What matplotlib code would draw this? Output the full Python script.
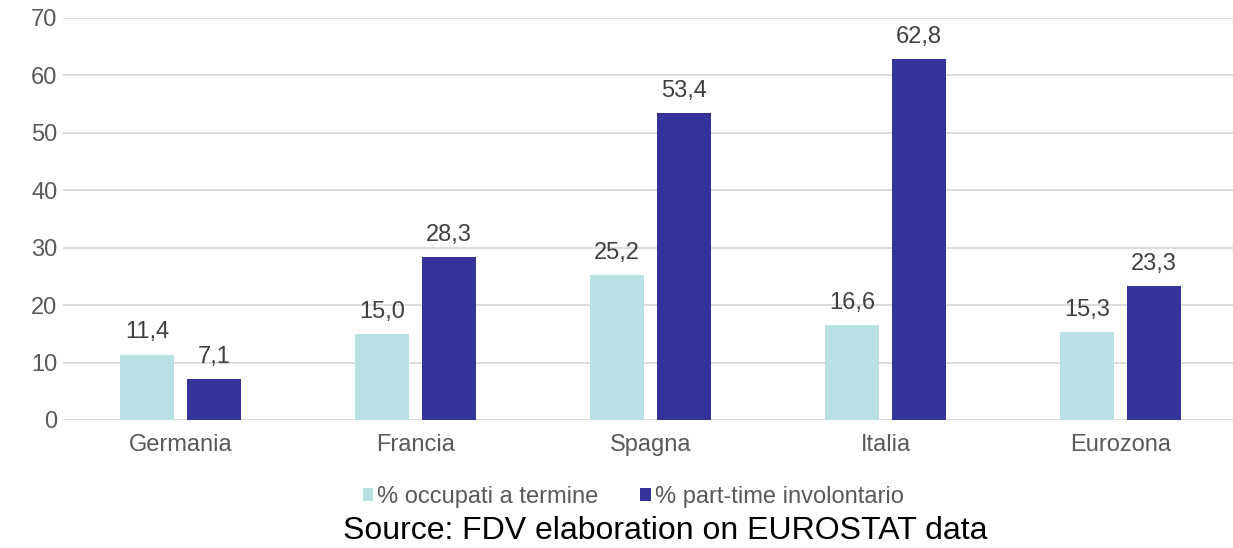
import matplotlib.pyplot as plt
import numpy as np

plt.rcParams['font.family'] = ['Liberation Sans', 'DejaVu Sans']

paesi = ['Germania', 'Francia', 'Spagna', 'Italia', 'Eurozona']
occupati_termine = [11.4, 15.0, 25.2, 16.6, 15.3]
part_time_invol = [7.1, 28.3, 53.4, 62.8, 23.3]
serie_nomi = ['% occupati a termine', '% part-time involontario']

col_chiaro = '#b9e0e3'
col_scuro = '#343399'
grigio = '#595959'

fig = plt.figure(figsize=(12.33, 5.48), dpi=100)
ax = fig.add_axes([63 / 1233, 1 - 420 / 548, 1175 / 1233, 402 / 548])

x = np.arange(len(paesi))
w = 0.226
off = 0.1426
b1 = ax.bar(x - off, occupati_termine, w, color=col_chiaro, label=serie_nomi[0], zorder=3)
b2 = ax.bar(x + off, part_time_invol, w, color=col_scuro, label=serie_nomi[1], zorder=3)

for barre, vals in [(b1, occupati_termine), (b2, part_time_invol)]:
    for b, v in zip(barre, vals):
        ax.annotate(f'{v:.1f}'.replace('.', ','), (b.get_x() + b.get_width() / 2, v),
                    xytext=(0, 8), textcoords='offset points', ha='center', va='bottom',
                    fontsize=17, color='#404040')

ax.set_xlim(-0.5, len(paesi) - 0.5)
ax.set_ylim(0, 70)
ax.set_yticks(range(0, 71, 10))
ax.set_xticks(x)
ax.set_xticklabels(paesi)
ax.tick_params(length=0, labelsize=17, colors=grigio)
ax.tick_params(axis='x', pad=10)
ax.tick_params(axis='y', pad=4)
ax.grid(axis='y', color='#d9d9d9', linewidth=1.3, zorder=0)
for s in ax.spines.values():
    s.set_visible(False)

fig.legend(handles=[b1, b2], loc='center', bbox_to_anchor=(633 / 1233, 1 - 497 / 548),
           ncol=2, frameon=False, fontsize=17, labelcolor=grigio, handlelength=0.45,
           handleheight=0.45, handletextpad=0.15, columnspacing=1.8)

fig.text(665 / 1233, 1 - 531 / 548, 'Source: FDV elaboration on EUROSTAT data',
         ha='center', va='center', fontsize=23, color='black')

fig.savefig('out.png', dpi=100)
